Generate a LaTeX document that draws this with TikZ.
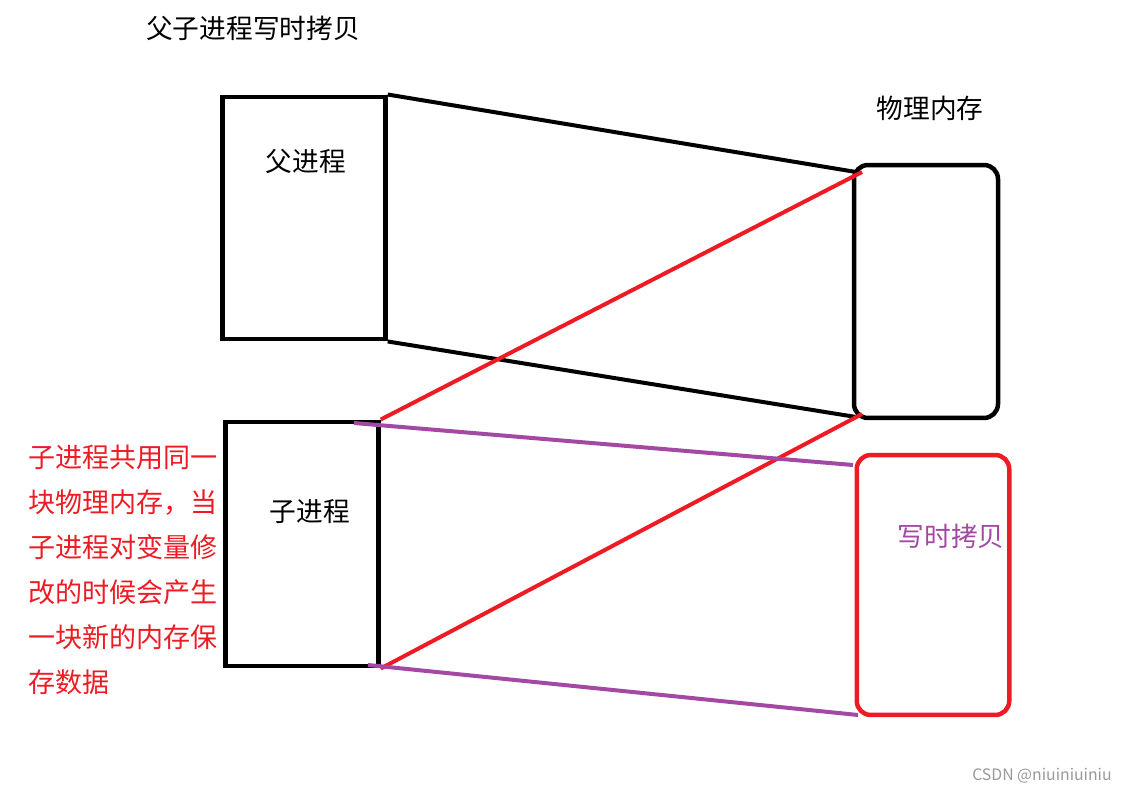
\documentclass[tikz,border=0pt]{standalone}
\usepackage{fontspec}
\setmainfont{Noto Sans CJK SC}
\definecolor{paintred}{HTML}{ED1C24}
\definecolor{paintpurple}{HTML}{A349A4}
\tikzset{
    procbox/.style={draw, line width=0.09cm, inner sep=0pt},
    membox/.style={procbox, rounded corners=0.28cm},
    link/.style={line width=0.08cm},
    txt/.style={inner sep=0pt, font=\fontsize{15.2pt}{18pt}\selectfont}
}
\begin{document}
\begin{tikzpicture}[x=0.02cm, y=-0.02cm]
        \useasboundingbox (0,0) rectangle (1121,797);
        \node[txt] (title) at (253,28) {父子进程写时拷贝};
        % processes
        \node[procbox, minimum width=3.26cm, minimum height=4.85cm] (parent) at (304,218) {};
        \node[txt] (parentname) at (306,161) {父进程};
        \node[procbox, minimum width=3.06cm, minimum height=4.89cm] (child) at (302,544) {};
        \node[txt] (childname) at (310,512) {子进程};
        % memory
        \node[txt] (memname) at (930,108) {物理内存};
        \node[membox, minimum width=2.88cm, minimum height=5.06cm] (mem) at (926,291.5) {};
        \node[membox, draw=paintred, minimum width=3.05cm, minimum height=5.2cm] (copy) at (933,585) {};
        \node[txt, text=paintpurple] (copyname) at (951,536) {写时拷贝};
        \coordinate (memtop) at (856,172);
        \coordinate (membot) at (856,417);
        \coordinate (memtopr) at (862,172);
        \coordinate (membotr) at (862,414);
        \coordinate (copytop) at (853,465);
        \coordinate (copybot) at (858,715);
        \coordinate (childtop) at (354,423);
        \coordinate (childbot) at (368,665);
        \draw[link] (parent.north east) -- (memtop);
        \draw[link] (parent.south east) -- (membot);
        \draw[link, paintred] (child.north east) -- (memtopr);
        \draw[link, paintred] (child.south east) -- (membotr);
        \draw[link, paintpurple] (childtop) -- (copytop);
        \draw[link, paintpurple] (childbot) -- (copybot);
        \node[txt, text=paintred, anchor=north west, align=left,
              font=\fontsize{15.4pt}{25.6pt}\selectfont] (note) at (28,445)
              {子进程共用同一\\块物理内存，当\\子进程对变量修\\改的时候会产生\\一块新的内存保\\存数据};
        \node[text=black!40, inner sep=0pt, anchor=east, font=\fontsize{9pt}{11pt}\selectfont] (mark) at (1112,776) {CSDN @niuiniuiniu};
\end{tikzpicture}
\end{document}
